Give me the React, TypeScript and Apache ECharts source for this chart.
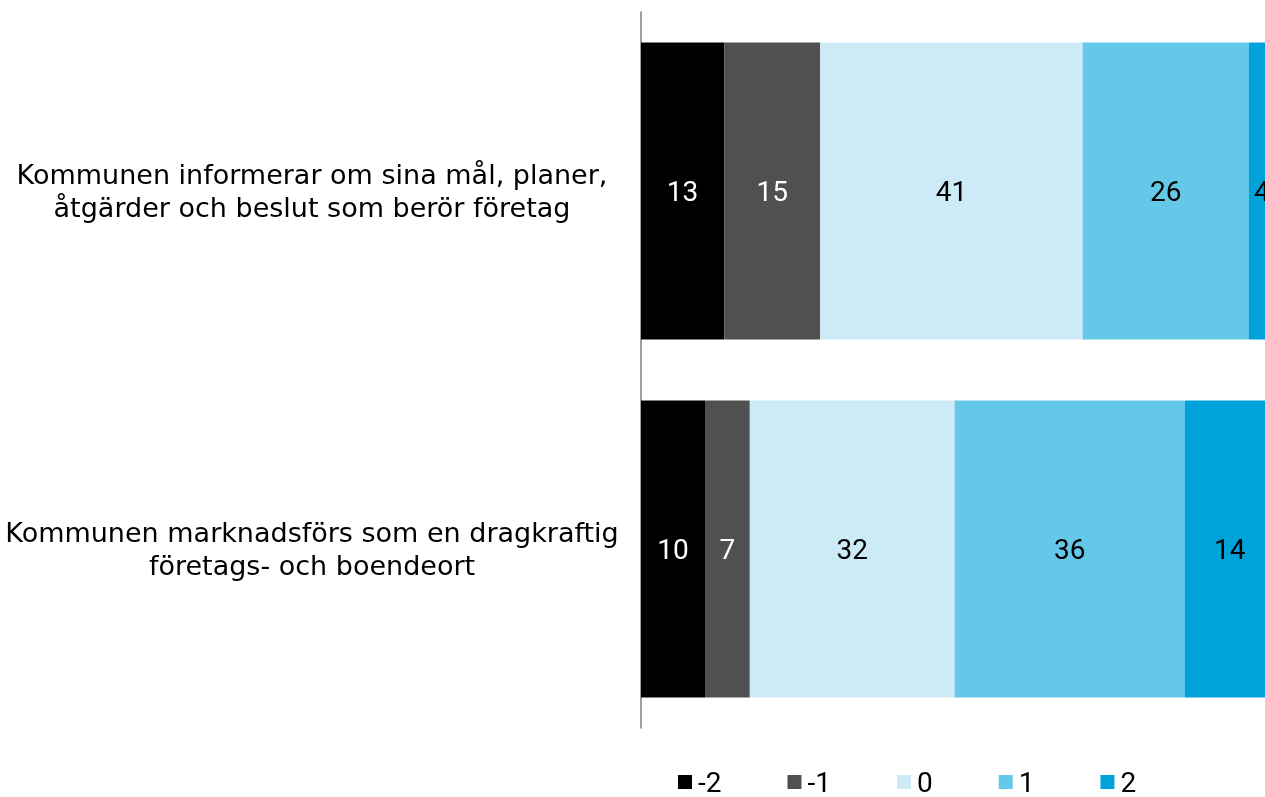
import React, { useEffect, useRef } from "react";
import * as echarts from "echarts";

const categories = [
  "Kommunen informerar om sina mål, planer,\nåtgärder och beslut som berör företag",
  "Kommunen marknadsförs som en dragkraftig\nföretags- och boendeort",
];
const seriesNames = ["-2", "-1", "0", "1", "2"];
const valuesMinus2 = [13, 10];
const valuesMinus1 = [15, 7];
const values0 = [41, 32];
const values1 = [26, 36];
const values2 = [4, 14];
const colors = ["#000000", "#505050", "#cdebf6", "#66c8e8", "#00a3d9"];
const labelColors = ["#ffffff", "#ffffff", "#000000", "#000000", "#000000"];

export default function App() {
  const ref = useRef<HTMLDivElement>(null);
  useEffect(() => {
    if (!ref.current) return;
    const chart = echarts.init(ref.current, undefined, { renderer: "svg" });
    const all = [valuesMinus2, valuesMinus1, values0, values1, values2];
    const catFont = "DejaVu Sans";
    const numFont = "Roboto";
    chart.setOption({
      animation: false,
      textStyle: { fontFamily: numFont },
      grid: { left: 641, width: 640, top: 12, bottom: 69 },
      xAxis: {
        type: "value",
        min: 0,
        max: 100,
        show: false,
      },
      yAxis: {
        type: "category",
        data: categories,
        inverse: true,
        axisLine: { show: true, lineStyle: { color: "#808080", width: 1.5 } },
        axisTick: { show: false },
        axisLabel: {
          align: "center",
          margin: 329,
          fontSize: 27,
          lineHeight: 33,
          color: "#000000",
          fontFamily: catFont,
        },
      },
      legend: {
        left: 673,
        top: 762,
        itemWidth: 14,
        itemHeight: 14,
        itemGap: 66,
        icon: "rect",
        textStyle: { fontSize: 28, lineHeight: 30, color: "#000000", fontFamily: numFont, padding: [0, 0, 0, 1] },
        data: seriesNames,
      },
      series: seriesNames.map((name, i) => ({
        name,
        type: "bar",
        stack: "total",
        barWidth: 297,
        data: all[i],
        itemStyle: { color: colors[i] },
        label: {
          show: true,
          position: "inside",
          color: labelColors[i],
          fontSize: 28,
          fontFamily: numFont,
        },
      })),
    });
    return () => chart.dispose();
  }, []);
  return (
    <div style={{ position: "fixed", left: 0, top: 0, width: 1265, height: 797, overflow: "hidden" }}>
      <div ref={ref} style={{ width: 1290, height: 797 }} />
    </div>
  );
}
